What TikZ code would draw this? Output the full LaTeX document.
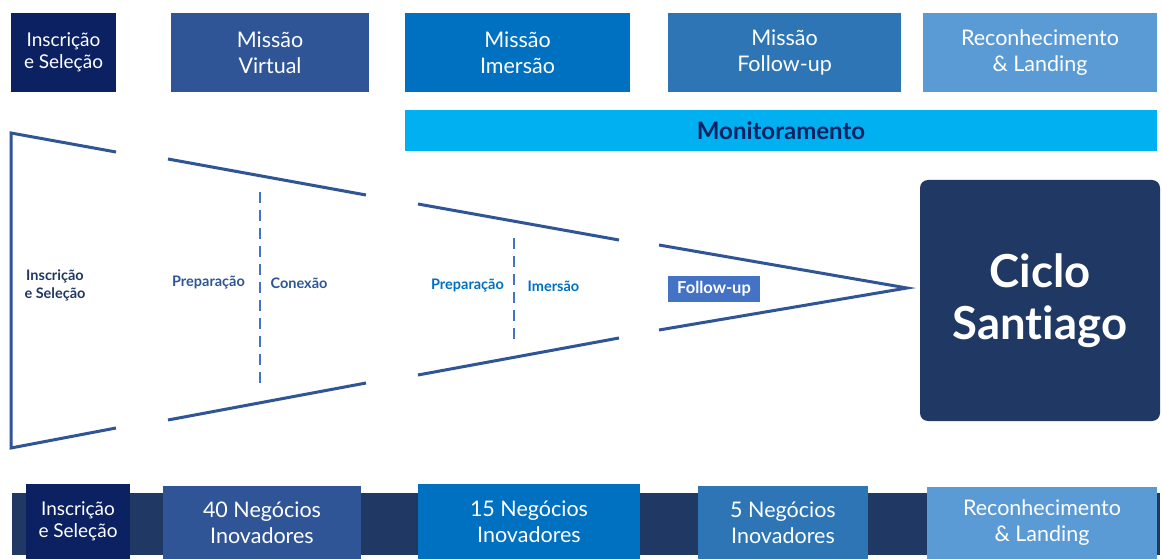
\documentclass[tikz,border=0pt]{standalone}
\usepackage{fontspec}
\setmainfont{Lato}[Ligatures=NoCommon]
\definecolor{navyA}{HTML}{0B2162}
\definecolor{blueB}{HTML}{2F5597}
\definecolor{blueC}{HTML}{0070C0}
\definecolor{blueD}{HTML}{2E75B6}
\definecolor{blueE}{HTML}{5B9BD5}
\definecolor{cyanM}{HTML}{00B0F0}
\definecolor{navyS}{HTML}{203864}
\definecolor{funnel}{HTML}{2F5597}
\definecolor{dashc}{HTML}{4472C4}
\definecolor{fubox}{HTML}{4472C4}
\begin{document}
\begin{tikzpicture}[x=1pt,y=-1pt,
  box/.style={inner sep=0pt, align=center, text=white, font=\fontsize{21.5}{26}\selectfont},
  smallbox/.style={box, font=\fontsize{19}{22.5}\selectfont},
  funline/.style={draw=funnel, line width=3pt},
  dashline/.style={draw=dashc, line width=2.5pt, dash pattern=on 11pt off 7pt},
  lbl/.style={inner sep=0pt, align=center, font=\fontsize{14.5}{18}\selectfont\bfseries}
]
\useasboundingbox (0,0) rectangle (1163,559);
\fill[white] (0,0) rectangle (1163,559);

% top row
\node[smallbox, fill=navyA, minimum width=105pt, minimum height=79pt] (t1) at (63.5,52.5) {Inscrição\\e Seleção};
\node[box, fill=blueB, minimum width=198pt, minimum height=79pt] (t2) at (270,52.5) {Missão\\Virtual};
\node[box, fill=blueC, minimum width=225pt, minimum height=79pt] (t3) at (517.5,52.5) {Missão\\Imersão};
\node[box, fill=blueD, minimum width=233pt, minimum height=79pt] (t4) at (784.5,52.5) {Missão\\Follow-up};
\node[box, fill=blueE, minimum width=234pt, minimum height=79pt] (t5) at (1040,52.5) {Reconhecimento\\\& Landing};
\node[inner sep=0pt, fill=cyanM, text=navyA, minimum width=752pt, minimum height=41pt, font=\fontsize{24}{28}\selectfont\bfseries] (mon) at (781,130.5) {Monitoramento};

% funnel
\coordinate (a1) at (11,133); \coordinate (a2) at (116,152);
\coordinate (a3) at (11,448); \coordinate (a4) at (116,428);
\draw[funline] (a2) -- (a1) -- (a3) -- (a4);
\coordinate (c1) at (168,159); \coordinate (c2) at (366,195);
\coordinate (c3) at (168,420); \coordinate (c4) at (366,383);
\draw[funline] (c1) -- (c2);
\draw[funline] (c3) -- (c4);
\coordinate (d1) at (260,192); \coordinate (d2) at (260,386);
\draw[dashline] (d1) -- (d2);
\coordinate (e1) at (418,204); \coordinate (e2) at (619,240);
\coordinate (e3) at (418,375); \coordinate (e4) at (619,338);
\draw[funline] (e1) -- (e2);
\draw[funline] (e3) -- (e4);
\coordinate (f1) at (514,238); \coordinate (f2) at (514,343);
\draw[dashline] (f1) -- (f2);
\coordinate (g1) at (659,245); \coordinate (g2) at (907,288); \coordinate (g3) at (659,330);
\draw[funline] (g1) -- (g2) -- (g3);

% funnel labels
\node[lbl, text=navyS] (l1) at (55,285) {Inscrição\\e Seleção};
\node[lbl, text=blueB] (l2) at (208.5,283) {Preparação};
\node[lbl, text=blueB] (l3) at (299,283) {Conexão};
\node[lbl, text=blueC] (l4) at (467.5,286) {Preparação};
\node[lbl, text=blueC] (l5) at (553.5,286) {Imersão};
\node[inner sep=0pt, fill=fubox, text=white, minimum width=92pt, minimum height=26pt, font=\fontsize{16.5}{19}\selectfont\bfseries] (fu) at (714,289) {Follow-up};

% Ciclo Santiago
\node[fill=navyS, rounded corners=8pt, minimum width=240pt, minimum height=241pt, inner sep=0pt, text=white, align=center, font=\fontsize{45.5}{52}\selectfont\bfseries] (cs) at (1040,300.5) {Ciclo\\Santiago};

% bottom band
\fill[navyS] (12,493) rectangle (1160,555);
\node[smallbox, fill=navyA, minimum width=104pt, minimum height=75pt] (b1) at (78,521.5) {Inscrição\\e Seleção};
\node[box, fill=blueB, minimum width=198pt, minimum height=73pt] (b2) at (262,522.5) {40 Negócios\\Inovadores};
\node[box, fill=blueC, minimum width=222pt, minimum height=75pt] (b3) at (529,521.5) {15 Negócios\\Inovadores};
\node[box, fill=blueD, minimum width=170pt, minimum height=73pt] (b4) at (783,522.5) {5 Negócios\\Inovadores};
\node[box, fill=blueE, minimum width=230pt, minimum height=72pt] (b5) at (1042,523) {Reconhecimento\\\& Landing};
\end{tikzpicture}
\end{document}
